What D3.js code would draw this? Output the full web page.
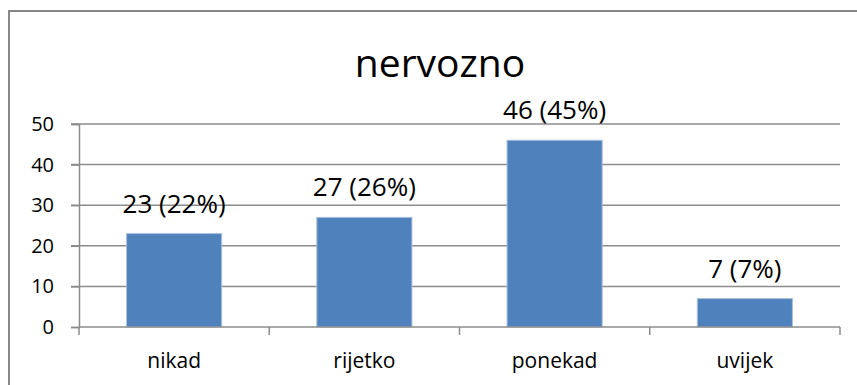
<!DOCTYPE html>
<html>
<head>
<meta charset="utf-8">
<script src="https://cdn.jsdelivr.net/npm/d3@7"></script>
<style>
  html, body { margin: 0; padding: 0; background: #fff; }
  svg { display: block; }
  text { font-family: "Open Sans", "Noto Sans", sans-serif; fill: #000; }
</style>
</head>
<body>
<svg id="chart" width="857" height="385"></svg>
<script>
// Responses to "nervozno"
const categories = ["nikad", "rijetko", "ponekad", "uvijek"];
const counts = [23, 27, 46, 7];
const percents = [22, 26, 45, 7];
const yTicks = [0, 10, 20, 30, 40, 50];
const chartTitle = "nervozno";

const svg = d3.select("#chart");
const W = 857, H = 385;
const plot = { left: 79, right: 840, top: 124, bottom: 327 };

// Outer chart frame
svg.append("rect")
  .attr("x", 9).attr("y", 11)
  .attr("width", W + 20).attr("height", H + 20)
  .attr("fill", "#fff")
  .attr("stroke", "#878787").attr("stroke-width", 2);

const x = d3.scaleBand()
  .domain(categories)
  .range([plot.left, plot.right])
  .paddingInner(0.5).paddingOuter(0.25);

const y = d3.scaleLinear()
  .domain([0, 50])
  .range([plot.bottom, plot.top]);

// Horizontal gridlines
svg.append("g")
  .selectAll("line")
  .data(yTicks.filter(d => d > 0))
  .join("line")
  .attr("x1", plot.left - 8).attr("x2", plot.right)
  .attr("y1", d => y(d)).attr("y2", d => y(d))
  .attr("stroke", "#8c8c8c").attr("stroke-width", 1.5);

// Y axis
const yAxis = d3.axisLeft(y).tickValues(yTicks).tickSize(8).tickPadding(17);
const gy = svg.append("g")
  .attr("transform", `translate(${plot.left},0)`)
  .call(yAxis)
  .attr("font-family", null)
  .attr("font-size", null);
gy.select(".domain").attr("stroke", "#8c8c8c").attr("stroke-width", 1.5);
gy.selectAll(".tick line").attr("stroke", "#8c8c8c").attr("stroke-width", 1.5);
gy.selectAll(".tick text")
  .style("font-size", "20px")
  .attr("fill", "#000");

// Bars
svg.append("g")
  .selectAll("rect")
  .data(categories.map((c, i) => ({ c, v: counts[i], p: percents[i] })))
  .join("rect")
  .attr("x", d => x(d.c))
  .attr("y", d => y(d.v))
  .attr("width", x.bandwidth())
  .attr("height", d => y(0) - y(d.v))
  .attr("fill", "#4f81bd")
  .attr("stroke", "#a8c0de").attr("stroke-width", 1);

// X axis with ticks at category boundaries
const step = x.step();
const boundaries = d3.range(categories.length + 1).map(i => plot.left + i * step);
svg.append("line")
  .attr("x1", plot.left).attr("x2", plot.right)
  .attr("y1", y(0)).attr("y2", y(0))
  .attr("stroke", "#8c8c8c").attr("stroke-width", 1.5);
svg.append("g")
  .selectAll("line")
  .data(boundaries)
  .join("line")
  .attr("x1", d => d).attr("x2", d => d)
  .attr("y1", y(0)).attr("y2", y(0) + 8)
  .attr("stroke", "#8c8c8c").attr("stroke-width", 1.5);

// Category labels
svg.append("g")
  .selectAll("text")
  .data(categories)
  .join("text")
  .attr("x", d => x(d) + x.bandwidth() / 2)
  .attr("y", 368)
  .attr("text-anchor", "middle")
  .style("font-size", "21px")
  .text(d => d);

// Value labels
svg.append("g")
  .selectAll("text")
  .data(categories.map((c, i) => ({ c, v: counts[i], p: percents[i] })))
  .join("text")
  .attr("x", d => x(d.c) + x.bandwidth() / 2)
  .attr("y", d => y(d.v) - 21)
  .attr("text-anchor", "middle")
  .style("font-size", "26px")
  .text(d => `${d.v} (${d.p}%)`);

// Title
svg.append("text")
  .attr("x", 440)
  .attr("y", 77)
  .attr("text-anchor", "middle")
  .style("font-size", "39px")
  .text(chartTitle);
</script>
</body>
</html>
